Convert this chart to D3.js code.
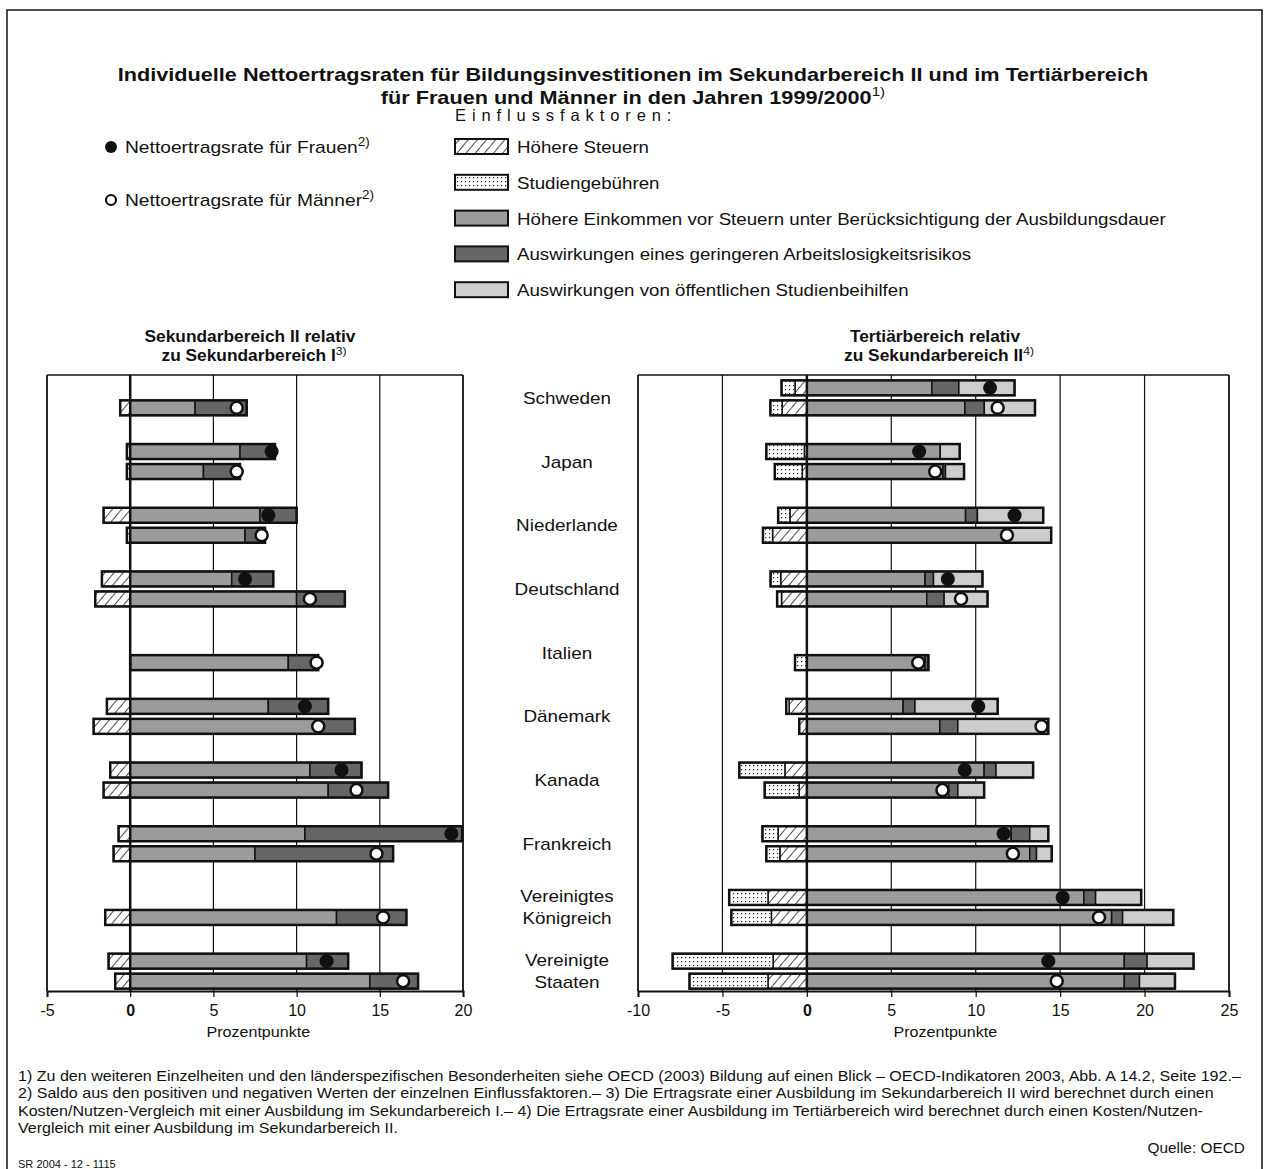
<!DOCTYPE html>
<html>

<head>
    <meta charset='utf-8'>
    <title>Nettoertragsraten</title>
    <script type='text/javascript' src='https://cdn.jsdelivr.net/npm/d3@7'></script>
    <style>
        body { margin: 0; background: #fff; }
        text { font-family: 'Liberation Sans', Arial, Helvetica, sans-serif; fill: #111; }
    </style>
</head>

<body>
    <svg width='1266' height='1169'></svg>
    <script type='text/javascript'>

        // countries, top to bottom
        const countries = ['Schweden', 'Japan', 'Niederlande', 'Deutschland', 'Italien', 'Dänemark',
            'Kanada', 'Frankreich', 'Vereinigtes Königreich', 'Vereinigte Staaten']
        const countryLines = [['Schweden'], ['Japan'], ['Niederlande'], ['Deutschland'], ['Italien'], ['Dänemark'],
            ['Kanada'], ['Frankreich'], ['Vereinigtes', 'Königreich'], ['Vereinigte', 'Staaten']]

        // Sekundarbereich II -- Frauen (null = no bar)
        const sekF_taxes  = [null, 0.2, 1.6, 1.7, null, 1.4, 1.2, 0.7, null, 1.3]
        const sekF_fees   = [null, 0, 0, 0, null, 0, 0, 0, null, 0]
        const sekF_income = [null, 6.6, 7.8, 6.1, null, 8.3, 10.8, 10.5, null, 10.6]
        const sekF_unemp  = [null, 2.1, 2.2, 2.5, null, 3.6, 3.1, 9.45, null, 2.5]
        const sekF_grants = [null, 0, 0, 0, null, 0, 0, 0, null, 0]
        const sekF_rate   = [null, 8.5, 8.3, 6.9, null, 10.5, 12.7, 19.3, null, 11.8]
        // Sekundarbereich II -- Männer
        const sekM_taxes  = [0.6, 0.2, 0.2, 2.1, 0, 2.2, 1.6, 1.0, 1.5, 0.9]
        const sekM_fees   = [0, 0, 0, 0, 0, 0, 0, 0, 0, 0]
        const sekM_income = [3.9, 4.4, 6.9, 10.0, 9.5, 11.4, 11.9, 7.5, 12.4, 14.4]
        const sekM_unemp  = [3.1, 2.2, 1.2, 2.9, 1.8, 2.1, 3.6, 8.3, 4.2, 2.9]
        const sekM_grants = [0, 0, 0, 0, 0, 0, 0, 0, 0, 0]
        const sekM_rate   = [6.4, 6.4, 7.9, 10.8, 11.2, 11.3, 13.6, 14.8, 15.2, 16.4]

        // Tertiärbereich -- Frauen
        const terF_taxes  = [0.7, 0.15, 1.0, 1.55, null, 1.05, 1.3, 1.7, 2.3, 2.0]
        const terF_fees   = [0.8, 2.25, 0.7, 0.6, null, 0.17, 2.7, 0.93, 2.3, 5.95]
        const terF_income = [7.4, 7.9, 9.4, 7.0, null, 5.7, 10.5, 12.1, 16.4, 18.8]
        const terF_unemp  = [1.6, 0, 0.7, 0.5, null, 0.7, 0.7, 1.1, 0.7, 1.35]
        const terF_grants = [3.3, 1.15, 3.9, 2.9, null, 4.9, 2.2, 1.1, 2.7, 2.75]
        const terF_rate   = [10.85, 6.65, 12.3, 8.35, null, 10.15, 9.35, 11.65, 15.15, 14.3]
        // Tertiärbereich -- Männer
        const terM_taxes  = [1.46, 0.27, 2.03, 1.5, 0, 0.45, 0.46, 1.6, 2.1, 2.3]
        const terM_fees   = [0.7, 1.63, 0.57, 0.26, 0.7, 0, 2.04, 0.8, 2.37, 4.65]
        const terM_income = [9.36, 8.06, 11.8, 7.1, 7.0, 7.87, 8.4, 13.2, 18.05, 18.8]
        const terM_unemp  = [1.15, 0.15, 0, 1.03, 0.2, 1.07, 0.54, 0.4, 0.65, 0.9]
        const terM_grants = [3.0, 1.1, 2.67, 2.57, 0, 5.36, 1.56, 0.9, 3.0, 2.1]
        const terM_rate   = [11.3, 7.6, 11.85, 9.13, 6.6, 13.9, 8.03, 12.2, 17.3, 14.8]

        const leftTicks = [-5, 0, 5, 10, 15, 20]
        const rightTicks = [-10, -5, 0, 5, 10, 15, 20, 25]

        const legendLabels = ['Höhere Steuern', 'Studiengebühren',
            'Höhere Einkommen vor Steuern unter Berücksichtigung der Ausbildungsdauer',
            'Auswirkungen eines geringeren Arbeitslosigkeitsrisikos',
            'Auswirkungen von öffentlichen Studienbeihilfen']

        const footnotes = [
            '1) Zu den weiteren Einzelheiten und den länderspezifischen Besonderheiten siehe OECD (2003) Bildung auf einen Blick – OECD-Indikatoren 2003, Abb. A 14.2, Seite 192.–',
            '2) Saldo aus den positiven und negativen Werten der einzelnen Einflussfaktoren.– 3) Die Ertragsrate einer Ausbildung im Sekundarbereich II wird berechnet durch einen',
            'Kosten/Nutzen-Vergleich mit einer Ausbildung im Sekundarbereich I.– 4) Die Ertragsrate einer Ausbildung im Tertiärbereich wird berechnet durch einen Kosten/Nutzen-',
            'Vergleich mit einer Ausbildung im Sekundarbereich II.'
        ]

        const svg = d3.select('svg')

        // the original lettering is a bit wider than Liberation Sans: stretch horizontally
        function stretch(t, sx, anchor) {
            const len = t.node().getComputedTextLength()
            t.attr('textLength', len * sx).attr('lengthAdjust', 'spacingAndGlyphs')
            if (anchor === 'middle') {
                t.attr('x', +t.attr('x') - len * sx / 2)
            } else if (anchor === 'end') {
                t.attr('x', +t.attr('x') - len * sx)
            }
            return t
        }
        function label(x, y, size, main, sup, opts = {}) {
            const t = svg.append('text').attr('x', x).attr('y', y).attr('font-size', size)
                .attr('font-weight', opts.bold ? 'bold' : 'normal')
            t.append('tspan').text(main)
            if (sup) {
                t.append('tspan').attr('dy', opts.supDy || -7).attr('font-size', size * 0.7)
                    .attr('font-weight', 'normal').text(sup)
            }
            return stretch(t, opts.sx || 1, opts.anchor)
        }

        // patterns
        const defs = svg.append('defs')
        const hatch = defs.append('pattern').attr('id', 'hatch')
            .attr('patternUnits', 'userSpaceOnUse').attr('width', 7).attr('height', 7)
            .attr('patternTransform', 'rotate(40)')
        hatch.append('rect').attr('width', 7).attr('height', 7).attr('fill', '#fff')
        hatch.append('line').attr('x1', 0).attr('y1', 0).attr('x2', 0).attr('y2', 7)
            .attr('stroke', '#111').attr('stroke-width', 1.5)
        const dots = defs.append('pattern').attr('id', 'dots')
            .attr('patternUnits', 'userSpaceOnUse').attr('width', 4).attr('height', 4)
        dots.append('rect').attr('width', 4).attr('height', 4).attr('fill', '#fff')
        dots.append('rect').attr('x', 1).attr('y', 1).attr('width', 1.2).attr('height', 1.2).attr('fill', '#222')

        const fills = ['url(#hatch)', 'url(#dots)', '#9b9b9b', '#666666', '#cdcdcd']

        // outer frame
        svg.append('path').attr('d', 'M7,1169 V10 H1262 V1169')
            .attr('fill', 'none').attr('stroke', '#111').attr('stroke-width', 1.5)

        // title
        label(633, 81, 18.5, 'Individuelle Nettoertragsraten für Bildungsinvestitionen im Sekundarbereich II und im Tertiärbereich',
            null, { bold: true, sx: 1.17, anchor: 'middle' })
        label(633, 104, 18.5, 'für Frauen und Männer in den Jahren 1999/2000', '1)',
            { bold: true, sx: 1.17, anchor: 'middle', supDy: -8 })

        // legend: rates
        svg.append('circle').attr('cx', 111).attr('cy', 147).attr('r', 6).attr('fill', '#111')
        label(125, 153, 17, 'Nettoertragsrate für Frauen', '2)', { sx: 1.13 })
        svg.append('circle').attr('cx', 111).attr('cy', 200).attr('r', 5).attr('fill', '#fff')
            .attr('stroke', '#111').attr('stroke-width', 2.2)
        label(125, 206, 17, 'Nettoertragsrate für Männer', '2)', { sx: 1.13 })

        // legend: factors
        svg.append('text').attr('x', 455).attr('y', 121).attr('font-size', 16.5)
            .attr('letter-spacing', 5.9).text('Einflussfaktoren:')
        legendLabels.forEach((lab, i) => {
            const yy = 139 + i * 35.8
            svg.append('rect').attr('x', 455).attr('y', yy).attr('width', 53).attr('height', 15)
                .attr('fill', fills[i]).attr('stroke', '#111').attr('stroke-width', 2)
            label(517, yy + 14, 17, lab, null, { sx: 1.1 })
        })

        // panels
        const yBand = d3.scaleBand().domain(countries).range([366, 1003])
        const plotTop = 375, plotBottom = 991

        const panels = [
            {
                x: d3.scaleLinear().domain([-5, 20]).range([47, 463]), ticks: leftTicks, unitAt: 7.7,
                title: ['Sekundarbereich II relativ', 'zu Sekundarbereich I', '3)'], tx: 250,
                rows: [
                    { off: -10, taxes: sekF_taxes, fees: sekF_fees, income: sekF_income, unemp: sekF_unemp, grants: sekF_grants, rate: sekF_rate, filled: true },
                    { off: 10, taxes: sekM_taxes, fees: sekM_fees, income: sekM_income, unemp: sekM_unemp, grants: sekM_grants, rate: sekM_rate, filled: false }
                ]
            },
            {
                x: d3.scaleLinear().domain([-10, 25]).range([638, 1229]), ticks: rightTicks, unitAt: 8.2,
                title: ['Tertiärbereich relativ', 'zu Sekundarbereich II', '4)'], tx: 935,
                rows: [
                    { off: -10, taxes: terF_taxes, fees: terF_fees, income: terF_income, unemp: terF_unemp, grants: terF_grants, rate: terF_rate, filled: true },
                    { off: 10, taxes: terM_taxes, fees: terM_fees, income: terM_income, unemp: terM_unemp, grants: terM_grants, rate: terM_rate, filled: false }
                ]
            }
        ]

        panels.forEach(p => {
            const g = svg.append('g')
            const [x0, x1] = p.x.range()

            // panel title
            label(p.tx, 342, 16.5, p.title[0], null, { bold: true, sx: 1.05, anchor: 'middle' })
            label(p.tx + 4, 361, 16.5, p.title[1], p.title[2], { bold: true, sx: 1.05, anchor: 'middle', supDy: -6 })

            // grid
            g.selectAll('.grid').data(p.ticks.filter(t => t !== 0)).enter().append('line')
                .attr('x1', d => p.x(d)).attr('x2', d => p.x(d)).attr('y1', plotTop).attr('y2', plotBottom)
                .attr('stroke', '#111').attr('stroke-width', 1.2)
            g.append('line').attr('x1', x0).attr('x2', x1).attr('y1', plotTop).attr('y2', plotTop)
                .attr('stroke', '#111').attr('stroke-width', 1.5)
            g.append('line').attr('x1', x1).attr('x2', x1).attr('y1', plotTop).attr('y2', plotBottom)
                .attr('stroke', '#111').attr('stroke-width', 1.5)

            // axis
            const axis = g.append('g').attr('transform', `translate(0,${plotBottom})`)
                .call(d3.axisBottom(p.x).tickValues(p.ticks).tickSize(6).tickPadding(8).tickFormat(d => String(d)))
            axis.select('.domain').attr('stroke', '#111').attr('stroke-width', 2)
            axis.selectAll('line').attr('stroke', '#111').attr('stroke-width', 1.2)
            axis.selectAll('text').attr('font-size', 16).attr('fill', '#111')
                .attr('font-family', "'Liberation Sans', Arial, sans-serif")
                .attr('font-weight', d => d === 0 ? 'bold' : 'normal')
            const pp = g.append('text').attr('x', p.x(p.unitAt)).attr('y', 1037).attr('font-size', 15).text('Prozentpunkte')
            stretch(pp, 1.07, 'middle')

            // bars
            p.rows.forEach(r => {
                countries.forEach((c, i) => {
                    if (r.income[i] === null) return
                    const cy = yBand(c) + yBand.bandwidth() / 2 + r.off
                    const h = 15
                    const t = r.taxes[i], f = r.fees[i], inc = r.income[i], u = r.unemp[i], gr = r.grants[i]
                    const segs = [
                        [-t, 0, 0], [-t - f, -t, 1],
                        [0, inc, 2], [inc, inc + u, 3], [inc + u, inc + u + gr, 4]
                    ].filter(s => s[1] - s[0] > 0)
                    g.selectAll(null).data(segs).enter().append('rect')
                        .attr('x', s => p.x(s[0])).attr('width', s => p.x(s[1]) - p.x(s[0]))
                        .attr('y', cy - h / 2).attr('height', h)
                        .attr('fill', s => fills[s[2]]).attr('stroke', '#111').attr('stroke-width', 1.5)
                    g.append('rect').attr('x', p.x(-t - f)).attr('width', p.x(inc + u + gr) - p.x(-t - f))
                        .attr('y', cy - h / 2).attr('height', h)
                        .attr('fill', 'none').attr('stroke', '#111').attr('stroke-width', 2.5)
                    g.append('circle').attr('cx', p.x(r.rate[i])).attr('cy', cy)
                        .attr('r', r.filled ? 7 : 6)
                        .attr('fill', r.filled ? '#111' : '#fff')
                        .attr('stroke', '#111').attr('stroke-width', r.filled ? 0 : 2.5)
                })
            })

            // zero line and left border on top
            g.append('line').attr('x1', p.x(0)).attr('x2', p.x(0)).attr('y1', plotTop).attr('y2', plotBottom)
                .attr('stroke', '#111').attr('stroke-width', 2.5)
            g.append('line').attr('x1', x0).attr('x2', x0).attr('y1', plotTop).attr('y2', plotBottom)
                .attr('stroke', '#111').attr('stroke-width', 1.5)
        })

        // country labels
        countryLines.forEach((lines, i) => {
            const cy = yBand(countries[i]) + yBand.bandwidth() / 2
            const y0 = lines.length === 1 ? cy + 6 : cy - 5
            lines.forEach((l, j) => label(567, y0 + j * 21.5, 17, l, null, { sx: 1.11, anchor: 'middle' }))
        })

        // footnotes
        footnotes.forEach((f, i) => label(18, 1081 + i * 17.3, 14, f, null, { sx: 1.146 }))
        label(1245, 1153, 14, 'Quelle: OECD', null, { sx: 1.1, anchor: 'end' })
        label(18, 1168, 10.5, 'SR 2004 - 12 - 1115', null, { sx: 1.05 })
    </script>
</body>

</html>
